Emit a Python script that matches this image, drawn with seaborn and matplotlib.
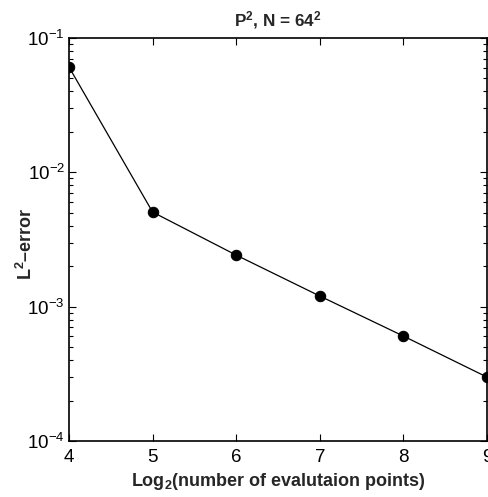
import numpy as np
import pandas as pd
import matplotlib
matplotlib.use("Agg")
import matplotlib.pyplot as plt
import seaborn as sns
from matplotlib.ticker import LogLocator, FixedLocator, NullFormatter

log2_points = [4, 5, 6, 7, 8, 9]
l2_error = [0.0608, 0.00506, 0.00242, 0.00120, 0.000604, 0.000299]
x_ticks = [4, 5, 6, 7, 8, 9]
y_ticks = [1e-4, 1e-3, 1e-2, 1e-1]
y_tick_labels = [r"$10^{-4}$", r"$10^{-3}$", r"$10^{-2}$", r"$10^{-1}$"]

sns.set_style("ticks")
plt.rcParams['font.family'] = ['Liberation Sans', 'DejaVu Sans']
plt.rcParams['mathtext.fontset'] = 'custom'
plt.rcParams['mathtext.rm'] = 'Liberation Sans'
plt.rcParams['mathtext.it'] = 'Liberation Sans:italic'
plt.rcParams['mathtext.bf'] = 'Liberation Sans:bold'
plt.rcParams['mathtext.default'] = 'regular'

df = pd.DataFrame({"x": log2_points, "err": l2_error})

fig = plt.figure(figsize=(4.88, 4.97), dpi=100)
ax = fig.add_axes([69/488, 1-441/497, (487-69)/488, (441-38)/497])
sns.lineplot(data=df, x="x", y="err", ax=ax, color="black", linewidth=0.9,
             marker="o", markersize=7.5, markerfacecolor="black",
             markeredgecolor="black", legend=False)
ax.set_yscale("log")
ax.set_xlim(4, 9)
ax.set_ylim(1e-4, 1e-1)
ax.xaxis.set_major_locator(FixedLocator(x_ticks))
ax.set_xticklabels([str(t) for t in x_ticks])
ax.yaxis.set_major_locator(FixedLocator(y_ticks))
ax.set_yticklabels(y_tick_labels)
ax.yaxis.set_minor_locator(LogLocator(base=10, subs=np.arange(2, 10)))
ax.yaxis.set_minor_formatter(NullFormatter())
ax.tick_params(which="both", direction="in", top=True, right=True, labelsize=13.5, width=0.8, color="black", labelcolor="black")
ax.tick_params(which="major", length=5)
ax.tick_params(which="minor", length=3)
ax.tick_params(axis="x", pad=6)
ax.tick_params(axis="y", pad=3)
for s in ax.spines.values():
    s.set_visible(True)
    s.set_linewidth(1.2)
    s.set_color("black")

ax.set_title(r"P$^\mathbf{2}$, N = 64$^\mathbf{2}$", fontsize=12.3, fontweight="bold", pad=9)
ax.set_xlabel(r"Log$_\mathbf{2}$(number of evalutaion points)", fontsize=13, fontweight="bold", labelpad=3)
ax.set_ylabel(r"L$^\mathbf{2}$–error", fontsize=13, fontweight="bold")
ax.yaxis.set_label_coords(-0.08, 0.49)

fig.savefig("out.png", dpi=100)
